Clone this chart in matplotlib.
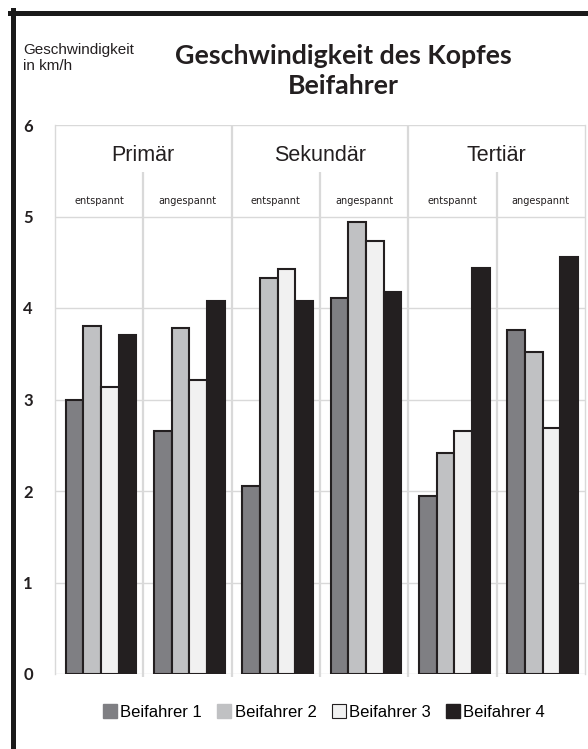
import matplotlib.pyplot as plt
from matplotlib.lines import Line2D
from matplotlib.patches import Patch
import numpy as np

groups = ["Primär", "Sekundär", "Tertiär"]
states = ["entspannt", "angespannt"]
riders = ["Beifahrer 1", "Beifahrer 2", "Beifahrer 3", "Beifahrer 4"]

# head speed in km/h, order: P-ent, P-ang, S-ent, S-ang, T-ent, T-ang
beifahrer1 = [3.00, 2.66, 2.05, 4.11, 1.95, 3.76]
beifahrer2 = [3.80, 3.78, 4.33, 4.94, 2.42, 3.52]
beifahrer3 = [3.14, 3.21, 4.43, 4.73, 2.66, 2.69]
beifahrer4 = [3.71, 4.08, 4.08, 4.17, 4.44, 4.56]
series = [beifahrer1, beifahrer2, beifahrer3, beifahrer4]
colors = ["#7f7f83", "#c0c1c3", "#f1f1f1", "#231f20"]
grid_col = "#d9d9d9"
dark = "#231f20"

W, H = 588, 749
fig = plt.figure(figsize=(W / 100, H / 100), dpi=100)
ax = fig.add_axes([55 / W, 75 / H, 530 / W, 549 / H])

x = np.arange(len(beifahrer1))
bw = 0.2
for i, vals in enumerate(series):
    ax.bar(x + (i - 1.5) * bw + 0.02, vals, width=bw, color=colors[i],
           edgecolor=dark, linewidth=1.5, zorder=3)

ax.set_xlim(-0.5, 5.5)
ax.set_ylim(0, 6)
ax.set_yticks(range(7))
ax.set_xticks([])
for y in range(7):
    ax.axhline(y, color=grid_col, lw=1, zorder=1)
for s in ["top", "bottom"]:
    ax.spines[s].set_visible(False)
for s in ["left", "right"]:
    ax.spines[s].set_color(grid_col)
    ax.spines[s].set_linewidth(1)

# group separators and the inner state separators
ax.vlines([1.5, 3.5], -0.03, 6, color=grid_col, lw=1.6, zorder=1, clip_on=False)
ax.vlines([0.5, 2.5, 4.5], -0.03, 5.49, color=grid_col, lw=1.6, zorder=1, clip_on=False)

for g, name in enumerate(groups):
    ax.text(2 * g + 0.5, 5.67, name, ha="center", va="center",
            fontsize=15.5, family="Liberation Sans", color=dark)
    for k, st in enumerate(states):
        ax.text(2 * g + k, 5.17, st, ha="center", va="center",
                fontsize=7, family="DejaVu Sans", color=dark)

ax.tick_params(axis="y", length=0, pad=16, labelsize=12, labelcolor=dark)
for lab in ax.get_yticklabels():
    lab.set_fontweight("bold")
    lab.set_family("Lato")

fig.text(23 / W, 1 - 43 / H, "Geschwindigkeit\nin km/h", ha="left", va="top",
         fontsize=11, family="Liberation Sans", color=dark, linespacing=1.2)
fig.text(343 / W, 1 - 71 / H, "Geschwindigkeit des Kopfes\nBeifahrer",
         ha="center", va="center", fontsize=19.3, fontweight="bold",
         family="Lato", color=dark, linespacing=1.25)

handles = [
    Patch(facecolor=colors[0], edgecolor=colors[0]),
    Patch(facecolor=colors[1], edgecolor=colors[1]),
    Patch(facecolor=colors[2], edgecolor=dark, linewidth=0.8),
    Patch(facecolor=colors[3], edgecolor=colors[3]),
]
fig.legend(handles, riders, loc="center", bbox_to_anchor=(324 / W, 1 - 712 / H),
           ncol=4, frameon=False, handlelength=0.85, handleheight=0.85,
           handletextpad=0.2, columnspacing=0.9,
           prop={"family": "Liberation Sans", "size": 12})

# black frame on the left and top edge
fig.add_artist(Line2D([12.5 / W, 12.5 / W], [0, 1 - 10 / H], transform=fig.transFigure,
                      color="#1a1a1a", lw=3.6))
fig.add_artist(Line2D([10 / W, 1], [1 - 12.5 / H, 1 - 12.5 / H], transform=fig.transFigure,
                      color="#1a1a1a", lw=3.6))

fig.savefig("out.png", dpi=100)
